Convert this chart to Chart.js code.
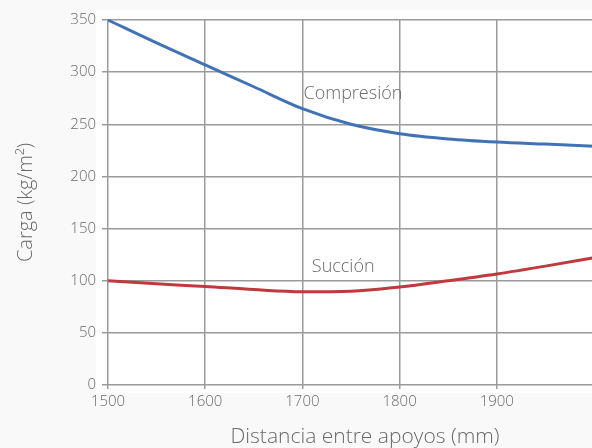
<!DOCTYPE html>
<html>
<head>
<meta charset="utf-8">
<script src="https://cdn.jsdelivr.net/npm/chart.js@4/dist/chart.umd.min.js"></script>
<style>
html,body{margin:0;padding:0;background:#f9f9f9;overflow:hidden;}
#wrap{width:592px;height:448px;position:relative;overflow:hidden;}
</style>
</head>
<body>
<div id="wrap"><canvas id="c" width="598" height="448"></canvas></div>
<script>
const distances = [1500, 1550, 1600, 1650, 1700, 1750, 1800, 1850, 1900, 1950, 2000];
const compresion = [350, 328, 307, 286, 265, 250, 241, 236, 233, 231, 229];
const succion = [100, 97, 94.5, 91.5, 89.5, 90, 94, 100, 106.5, 114, 122];
const yTicks = [0, 50, 100, 150, 200, 250, 300, 350];
const seriesLabels = ["Compresión", "Succión"];
const labelPos = [{x: 1752, y: 279}, {x: 1742, y: 113}];
const xTitle = "Distancia entre apoyos (mm)";
const yTitle = "Carga (kg/m²)";

const FONT = "'Open Sans', 'DejaVu Sans', sans-serif";
const TXT = '#6a6a6a';

const bgPlugin = {
  id: 'bg',
  beforeDraw(chart) {
    const {ctx, chartArea: a} = chart;
    ctx.save();
    ctx.fillStyle = '#ffffff';
    ctx.fillRect(a.left - 12, a.top - 10, a.right - a.left + 12, a.bottom - a.top + 18);
    ctx.restore();
  }
};

const textPlugin = {
  id: 'texts',
  afterDatasetsDraw(chart) {
    const {ctx, scales} = chart;
    ctx.save();
    ctx.fillStyle = TXT;
    ctx.font = "300 18px " + FONT;
    ctx.textAlign = 'center';
    ctx.textBaseline = 'middle';
    seriesLabels.forEach((t, i) => {
      ctx.fillText(t, scales.x.getPixelForValue(labelPos[i].x), scales.y.getPixelForValue(labelPos[i].y));
    });
    ctx.font = "300 21px " + FONT;
    ctx.fillText(xTitle, 365, 437);
    ctx.restore();
  }
};

new Chart(document.getElementById('c'), {
  type: 'line',
  data: {
    datasets: [
      {
        label: seriesLabels[0],
        data: distances.map((d, i) => ({x: d, y: compresion[i]})),
        borderColor: '#4272b6',
        borderWidth: 3,
        pointRadius: 0,
        cubicInterpolationMode: 'monotone',
        fill: false
      },
      {
        label: seriesLabels[1],
        data: distances.map((d, i) => ({x: d, y: succion[i]})),
        borderColor: '#c0393e',
        borderWidth: 3,
        pointRadius: 0,
        cubicInterpolationMode: 'monotone',
        fill: false
      }
    ]
  },
  options: {
    responsive: false,
    animation: false,
    clip: false,
    layout: {padding: {top: 20, right: 0, left: 0, bottom: 0}},
    plugins: {legend: {display: false}, tooltip: {enabled: false}},
    scales: {
      x: {
        type: 'linear',
        min: 1500,
        max: 2000,
        afterFit(s) { s.height = 63; },
        border: {display: false},
        grid: {color: '#9a9a9a', lineWidth: 1.5, tickLength: 4, drawTicks: true},
        ticks: {
          stepSize: 100,
          color: TXT,
          font: {family: FONT, size: 15, weight: 300},
          padding: 4,
          maxRotation: 0,
          callback: v => (v === 2000 ? '' : String(v))
        }
      },
      y: {
        min: 0,
        max: 350,
        afterFit(s) { s.width = 108; },
        afterBuildTicks(s) { s.ticks = yTicks.map(v => ({value: v})); },
        border: {display: false},
        grid: {color: '#9a9a9a', lineWidth: 1.5, tickLength: 6},
        ticks: {
          color: TXT,
          font: {family: FONT, size: 15, weight: 300},
          padding: 6
        },
        title: {
          display: true,
          text: yTitle,
          color: TXT,
          font: {family: FONT, size: 20, weight: 300},
          padding: {top: 14, bottom: 0}
        }
      }
    }
  },
  plugins: [bgPlugin, textPlugin]
});
</script>
</body>
</html>
